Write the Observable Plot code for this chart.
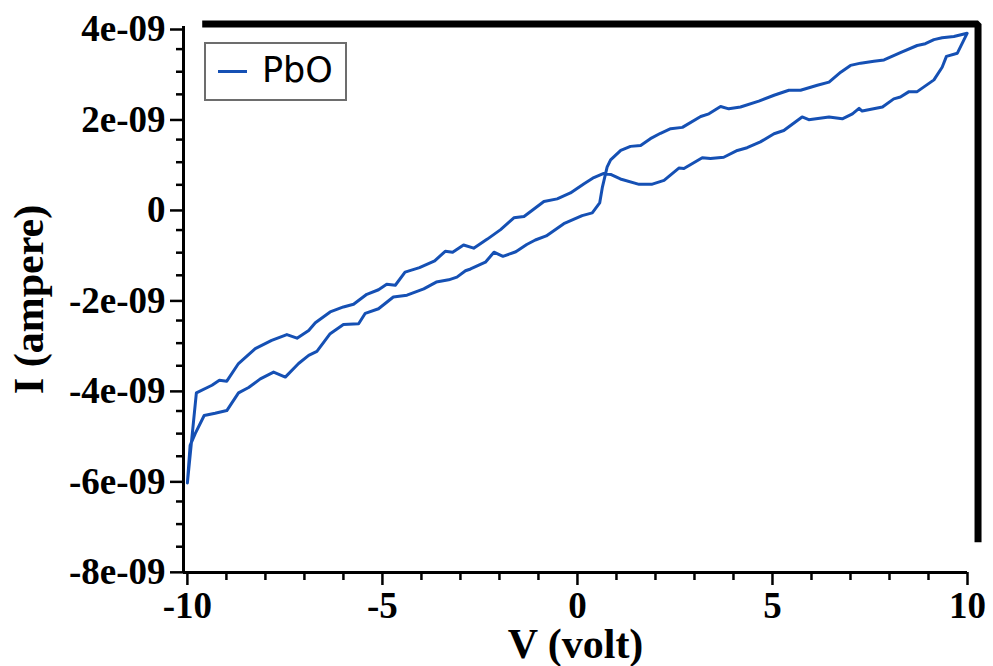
<!DOCTYPE html>
<html>
<head>
<meta charset="utf-8">
<script src="https://cdn.jsdelivr.net/npm/d3@7"></script>
<script src="https://cdn.jsdelivr.net/npm/@observablehq/plot@0.6"></script>
<style>
  html, body { margin: 0; padding: 0; background: white; }
  #wrap { position: relative; width: 993px; height: 666px; overflow: hidden; }
  #legend { position: absolute; left: 204px; top: 42px; width: 139px; height: 55px;
            border: 2px solid #6d6d6d; background: white; box-sizing: content-box; }
  #legend .sw { position: absolute; left: 12px; top: 26px; width: 29px; height: 3px; background: #1550b4; }
  #legend .tx { position: absolute; left: 56px; top: 5px; font-family: "DejaVu Sans", sans-serif;
                font-size: 35px; line-height: 42px; color: #000; }
</style>
</head>
<body>
<div id="wrap"></div>
<script>
// Voltage sweep (V), in path order around the loop
const voltage = [
  -10.0, -9.77, -9.37, -9.18, -8.99, -8.69, -8.26, -7.84, -7.45, -7.19,
  -6.89, -6.72, -6.34, -6.00, -5.74, -5.40, -5.10, -4.89, -4.67, -4.42,
  -4.05, -3.66, -3.39, -3.20, -2.92, -2.66, -2.31, -1.97, -1.63, -1.37,
  -0.86, -0.52, -0.18, 0.16, 0.42, 0.66, 0.85, 1.10, 1.58, 1.90,
  2.22, 2.60, 2.73, 3.20, 3.41, 3.75, 4.10, 4.35, 4.69, 5.04,
  5.29, 5.76, 5.93, 6.45, 6.79, 7.05, 7.22, 7.30, 7.82, 8.11,
  8.28, 8.50, 8.71, 9.14, 9.35, 9.46, 9.74, 9.99,
  9.65, 9.35, 9.14, 8.92, 8.71, 8.28, 7.86, 7.60, 7.26, 7.00,
  6.75, 6.45, 6.15, 5.72, 5.42, 5.04, 4.65, 4.18, 3.88, 3.67,
  3.37, 3.16, 2.69, 2.39, 2.13, 1.87, 1.62, 1.36, 1.11, 0.85,
  0.76, 0.64, 0.57, 0.38, 0.12, -0.35, -0.80, -1.08, -1.30, -1.58,
  -1.91, -2.14, -2.36, -2.74, -2.87, -3.09, -3.30, -3.62, -3.94, -4.37,
  -4.72, -5.10, -5.44, -5.61, -6.00, -6.34, -6.68, -6.89, -7.15, -7.49,
  -7.79, -8.13, -8.43, -8.69, -8.99, -9.29, -9.57, -9.80, -9.93, -10.0
];
// Current (units of 1e-09 A), same order
const current = [
  -6.09, -4.10, -3.93, -3.82, -3.84, -3.45, -3.12, -2.94, -2.81, -2.89,
  -2.72, -2.55, -2.31, -2.20, -2.14, -1.92, -1.82, -1.70, -1.72, -1.43,
  -1.33, -1.18, -0.97, -0.99, -0.83, -0.90, -0.70, -0.49, -0.23, -0.20,
  0.13, 0.19, 0.32, 0.52, 0.66, 0.75, 0.73, 0.63, 0.51, 0.51,
  0.60, 0.87, 0.86, 1.10, 1.08, 1.11, 1.26, 1.32, 1.45, 1.63,
  1.70, 2.00, 1.94, 2.00, 1.96, 2.07, 2.19, 2.13, 2.22, 2.40,
  2.44, 2.56, 2.56, 2.82, 3.10, 3.34, 3.41, 3.85,
  3.78, 3.75, 3.71, 3.62, 3.58, 3.42, 3.26, 3.23, 3.19, 3.14,
  2.99, 2.77, 2.70, 2.59, 2.59, 2.48, 2.35, 2.22, 2.18, 2.23,
  2.07, 2.01, 1.77, 1.74, 1.64, 1.52, 1.37, 1.35, 1.26, 1.05,
  0.89, 0.45, 0.10, -0.12, -0.18, -0.36, -0.63, -0.72, -0.82, -0.98,
  -1.08, -0.99, -1.21, -1.36, -1.40, -1.54, -1.60, -1.65, -1.80, -1.94,
  -1.98, -2.24, -2.34, -2.57, -2.59, -2.79, -3.18, -3.27, -3.45, -3.75,
  -3.64, -3.79, -3.98, -4.10, -4.49, -4.55, -4.60, -5.00, -5.26, -6.09
];

// Partial black frame drawn in the original (data coordinates)
const frameV = [-9.62, 10.27, 10.27];
const frameI = [4.055, 4.055, -7.40];

// Axis ticks and labels
const xTicks = [-10, -5, 0, 5, 10];
const xTickLabels = ["-10", "-5", "0", "5", "10"];
const xMinorTicks = [-9, -8, -7, -6, -4, -3, -2, -1, 1, 2, 3, 4, 6, 7, 8, 9];
const yTicks = [-8, -6, -4, -2, 0, 2, 4];
const yTickLabels = ["-8e-09", "-6e-09", "-4e-09", "-2e-09", "0", "2e-09", "4e-09"];
const yMinorTicks = [-7.5, -7, -6.5, -5.5, -5, -4.5, -3.5, -3, -2.5, -1.5, -1, -0.5,
                     0.5, 1, 1.5, 2.5, 3, 3.5];
const seriesName = "PbO";
const xLabel = "V (volt)";
const yLabel = "I (ampere)";

const blue = "#1550b4";
const loop = voltage.map((v, i) => ({v, i: current[i]}));
const frame = frameV.map((v, i) => ({v, i: frameI[i]}));

const chart = Plot.plot({
  width: 993,
  height: 666,
  marginLeft: 183,
  marginRight: 26,
  marginTop: 26,
  marginBottom: 94,
  style: {fontFamily: "'Liberation Serif', 'Times New Roman', serif", fontWeight: "bold",
          fontSize: "37px", color: "black", background: "white", overflow: "visible"},
  x: {domain: [-10.1, 10]},
  y: {domain: [-8.07, 4]},
  marks: [
    Plot.axisX(xMinorTicks, {tickSize: 8, strokeWidth: 2.5, text: null, label: null}),
    Plot.axisX(xTicks, {tickSize: 13, strokeWidth: 2.5, tickPadding: 6,
      tickFormat: d => xTickLabels[xTicks.indexOf(d)], label: null, fill: "black"}),
    Plot.axisY(yMinorTicks, {tickSize: 7, strokeWidth: 2.5, text: null, label: null}),
    Plot.axisY(yTicks, {tickSize: 13, strokeWidth: 2.5, tickPadding: 5, dy: 3,
      tickFormat: d => yTickLabels[yTicks.indexOf(d)], label: null, fill: "black"}),
    Plot.ruleX([-10.1], {y1: -8.07, y2: 4, strokeWidth: 3, stroke: "black"}),
    Plot.ruleY([-8.07], {x1: -10.1, x2: 10, strokeWidth: 3, stroke: "black"}),
    Plot.line(frame, {x: "v", y: "i", stroke: "black", strokeWidth: 7,
      strokeLinejoin: "miter", strokeLinecap: "butt"}),
    Plot.line(loop, {x: "v", y: "i", stroke: blue, strokeWidth: 3}),
    Plot.text([xLabel], {frameAnchor: "bottom", lineAnchor: "bottom", textAnchor: "middle",
      dy: 85, fontSize: 42, fill: "black"}),
    Plot.text([yLabel], {frameAnchor: "left", lineAnchor: "bottom", textAnchor: "middle",
      rotate: -90, dx: -141, fontSize: 42, fill: "black"})
  ]
});

const wrap = document.getElementById("wrap");
wrap.appendChild(chart);
const legend = document.createElement("div");
legend.id = "legend";
legend.innerHTML = '<div class="sw"></div><div class="tx"></div>';
legend.querySelector(".tx").textContent = seriesName;
wrap.appendChild(legend);
</script>
</body>
</html>
